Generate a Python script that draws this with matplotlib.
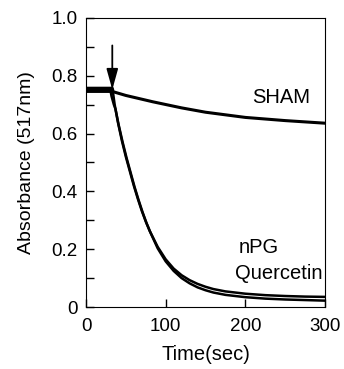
import matplotlib.pyplot as plt
import numpy as np

plt.rcParams['font.family'] = ['Liberation Sans', 'DejaVu Sans']

# SHAM
sham_t = np.array([0, 33, 34, 50, 84, 120, 150, 200, 250, 300])
sham_y = np.array([0.757, 0.757, 0.745, 0.732, 0.71, 0.689, 0.674, 0.656, 0.645, 0.636])

# nPG
npg_t = np.array([0, 33, 34, 36, 40, 45, 50, 55, 60, 65, 70, 75, 80, 90, 100, 110, 120,
                  130, 140, 150, 160, 175, 200, 225, 250, 275, 300])
npg_y = np.array([0.75, 0.75, 0.74, 0.70, 0.64, 0.576, 0.52, 0.47, 0.42, 0.375, 0.333,
                  0.296, 0.263, 0.208, 0.165, 0.133, 0.110, 0.093, 0.080, 0.070, 0.062,
                  0.054, 0.046, 0.041, 0.038, 0.036, 0.035])

# Quercetin
que_t = np.array([0, 31, 32, 35, 37, 41, 46, 51, 56, 61, 66, 71, 76, 81, 90, 100, 110, 120,
                  130, 140, 150, 160, 175, 200, 225, 250, 275, 300])
que_y = np.array([0.745, 0.745, 0.73, 0.70, 0.685, 0.63, 0.57, 0.515, 0.465, 0.415, 0.37,
                  0.328, 0.29, 0.257, 0.203, 0.158, 0.125, 0.100, 0.082, 0.068, 0.058,
                  0.050, 0.042, 0.034, 0.029, 0.026, 0.024, 0.022])

fig = plt.figure(figsize=(3.44, 3.69), dpi=100)
ax = fig.add_axes([86 / 344, 62 / 369, 239 / 344, 289 / 369])

ax.plot(sham_t, sham_y, color='black', lw=2.2)
ax.plot(npg_t, npg_y, color='black', lw=1.8)
ax.plot(que_t, que_y, color='black', lw=1.8)

ax.annotate('', xy=(33, 0.752), xytext=(33, 0.905),
            arrowprops=dict(arrowstyle='-|>,head_length=0.9,head_width=0.25', color='black',
                            lw=1.3, mutation_scale=14, shrinkA=0, shrinkB=0))

ax.text(245, 0.724, 'SHAM', fontsize=14.5, ha='center', va='center')
ax.text(192, 0.207, 'nPG', fontsize=14.5, ha='left', va='center')
ax.text(187, 0.117, 'Quercetin', fontsize=14.5, ha='left', va='center')

ax.set_xlim(0, 300)
ax.set_ylim(0, 1.0)
ax.set_xticks([0, 100, 200, 300])
ax.set_yticks([0, 0.2, 0.4, 0.6, 0.8, 1.0])
ax.set_yticklabels(['0', '0.2', '0.4', '0.6', '0.8', '1.0'])
ax.set_yticks(np.arange(0.1, 1.0, 0.2), minor=True)
ax.tick_params(direction='in', length=6, width=1, labelsize=13.5, top=False, right=False)
ax.tick_params(axis='y', which='minor', direction='in', length=6, width=1)
ax.tick_params(axis='x', pad=8)
ax.tick_params(axis='y', pad=6)

ax.set_xlabel('Time(sec)', fontsize=14.5, va='center')
ax.set_ylabel('Absorbance (517nm)', fontsize=14, va='center')
ax.xaxis.set_label_coords(0.5, -0.166)
ax.yaxis.set_label_coords(-0.251, 0.5)

fig.savefig('out.png', dpi=100)
